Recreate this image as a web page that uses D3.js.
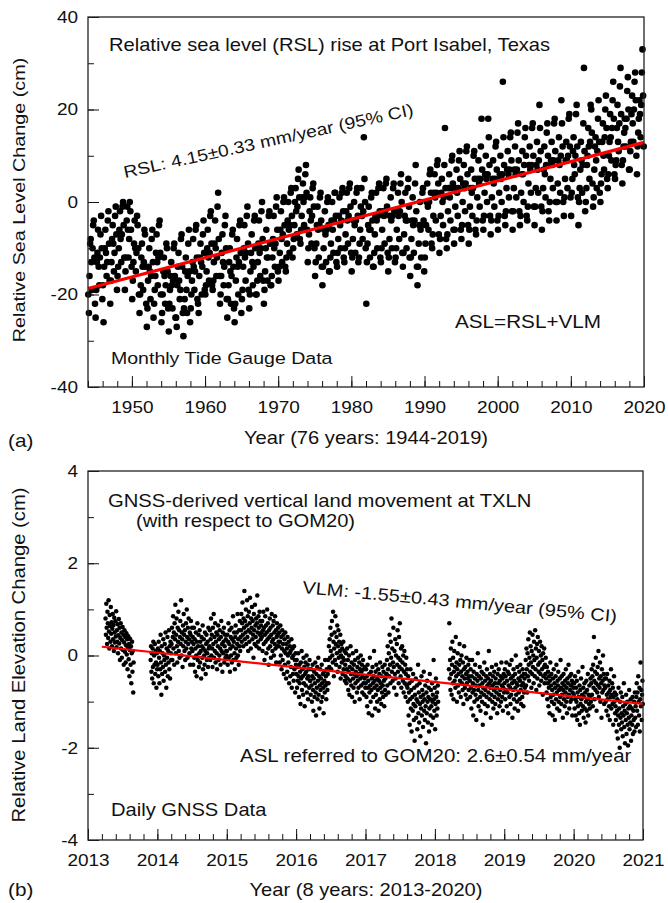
<!DOCTYPE html>
<html><head><meta charset="utf-8">
<script src="https://cdn.jsdelivr.net/npm/d3@7"></script>
<style>body{margin:0;background:#fff}svg{display:block}text{font-family:"Liberation Sans",Arial,Helvetica,sans-serif;fill:#111}</style>
</head><body><svg id="c" width="668" height="903"></svg>
<script>
// ---------- Panel (a): monthly relative sea level (cm), Jan..Dec per year ----------
const rsl1940s = [ // 1944-1949
-20,-24,-16,-9,-8,-13,-19,-10,-5,-4,-12,-22,
-25,-19,-13,-11,-6,-14,-18,-12,-7,-3,-10,-21,
-18,-26,-14,-10,-6,-11,-16,-13,-4,-2,-9,-17,
-22,-17,-13,-8,-5,-9,-15,-11,-3,-1,-7,-19,
-16,-14,-10,-6,-2,-8,-13,-7,-1,0,-5,-12,
-19,-15,-12,-4,-1,-6,-12,-8,0,-2,-6,-14];
const rsl1950s = [
-21,-17,-13,-9,-4,-10,-15,-11,-3,-5,-10,-20,
-24,-20,-18,-12,-9,-14,-19,-13,-6,-7,-14,-22,
-27,-23,-17,-14,-10,-15,-21,-16,-8,-6,-13,-25,
-22,-19,-16,-11,-7,-13,-18,-12,-5,-4,-11,-20,
-26,-24,-20,-15,-12,-16,-22,-18,-9,-10,-15,-23,
-28,-22,-19,-16,-13,-18,-23,-17,-10,-9,-16,-25,
-25,-27,-18,-14,-11,-17,-21,-19,-8,-7,-14,-24,
-29,-23,-21,-15,-12,-19,-24,-16,-9,-6,-15,-26,
-23,-20,-17,-13,-8,-14,-19,-15,-6,-5,-12,-21,
-22,-24,-16,-12,-9,-13,-20,-14,-7,-4,-11,-19];
const rsl1960s = [
-20,-18,-15,-10,-6,-12,-17,-11,-3,-2,-9,-18,
-19,-17,-13,-9,-4,-10,-16,-12,-1,2,-8,-16,
-22,-20,-16,-11,-7,-13,-18,-14,-5,-3,-10,-21,
-25,-21,-18,-13,-10,-15,-22,-16,-7,-6,-14,-23,
-26,-22,-17,-12,-8,-14,-20,-13,-5,-4,-11,-24,
-21,-19,-14,-10,-5,-12,-17,-11,-3,-1,-9,-19,
-23,-20,-15,-11,-7,-13,-18,-14,-4,-3,-10,-20,
-20,-17,-13,-9,-4,-11,-16,-10,-2,0,-8,-17,
-22,-19,-15,-10,-6,-12,-17,-12,-3,-2,-9,-18,
-18,-16,-12,-8,-3,-10,-14,-9,-1,1,-6,-15];
const rsl1970s = [
-17,-14,-11,-6,-2,-8,-13,-7,0,1,-5,-14,
-15,-12,-9,-4,0,-6,-11,-5,2,3,-3,-12,
-10,-8,-5,0,3,-2,-7,-1,5,7,1,-8,
-9,-6,-3,1,4,0,-5,1,6,8,2,-6,
-13,-10,-7,-2,1,-4,-9,-3,3,4,-1,-10,
-16,-13,-9,-5,-1,-6,-12,-5,1,2,-4,-14,
-18,-14,-10,-6,-2,-7,-13,-6,0,1,-5,-15,
-15,-12,-9,-4,0,-6,-11,-4,2,2,-3,-13,
-14,-11,-8,-3,1,-5,-10,-4,2,3,-2,-12,
-13,-10,-7,-2,2,-4,-9,-3,3,4,-1,-11];
const rsl1980s = [
-15,-12,-8,-4,0,-5,-11,-4,2,3,-3,-13,
-12,-9,-6,-1,3,-3,-8,-2,14,5,0,-10,
-22,-13,-9,-5,-1,-6,-12,-6,1,2,-4,-14,
-14,-11,-7,-3,2,-4,-10,-3,3,4,-2,-12,
-13,-10,-6,-2,3,-3,-9,-2,4,5,-1,-11,
-15,-12,-8,-3,1,-4,-10,-3,3,4,-2,-13,
-12,-10,-6,-2,2,-3,-8,-2,4,6,0,-11,
-14,-11,-7,-3,2,-4,-10,-4,3,5,-1,-12,
-16,-12,-8,-4,1,-5,-11,-4,4,8,-2,-14,
-18,-14,-9,-5,0,-6,-12,-5,2,3,-4,-15];
const rsl1990s = [
-12,-9,-5,0,4,-1,-6,0,6,7,2,-9,
-10,-7,-3,2,6,1,-4,2,8,9,4,-7,
-11,-8,-3,2,5,0,-5,1,8,16,3,-8,
-10,-7,-2,3,6,1,-4,3,9,10,4,-6,
-9,-6,-1,3,7,2,-3,3,9,11,5,-6,
-8,-5,0,4,8,3,-2,4,11,12,6,-5,
-9,-6,-1,3,7,2,-3,3,10,11,5,-6,
-7,-4,1,5,9,4,-1,5,12,18,7,-4,
-6,-3,2,6,10,5,0,6,18,14,8,-3,
-7,-4,1,5,9,4,-1,5,12,13,7,-4];
const rsl2000s = [
-6,-3,2,6,10,5,0,6,26,14,8,-3,
-5,-2,3,7,11,6,1,7,14,15,9,-2,
-6,-2,3,7,12,6,1,7,15,17,9,-2,
-5,-3,2,6,11,6,0,8,14,16,10,-3,
-4,-1,4,8,12,7,2,8,16,17,10,-1,
-5,-1,3,8,13,7,2,9,21,16,11,-1,
-6,-2,3,7,12,6,1,8,15,17,10,-2,
-4,0,5,9,13,8,3,9,17,18,11,0,
-4,0,4,9,14,8,2,10,22,17,12,0,
-3,1,5,9,13,9,3,10,18,19,12,1];
const rsl2010s = [
-3,2,5,11,14,8,6,10,19,21,12,1,
-5,0,3,7,13,9,2,8,17,29,11,-2,
0,3,8,10,16,12,5,13,21,20,15,4,
-1,1,7,12,14,9,3,11,18,22,13,2,
0,4,6,13,17,10,7,14,20,23,16,5,
3,6,10,13,19,14,9,16,22,26,18,6,
5,8,9,16,21,13,11,17,25,29,19,8,
4,9,12,15,18,16,12,18,24,27,20,7,
7,11,13,19,23,17,13,20,26,28,22,10,
6,12,15,18,22,19,14,21,28,33,23,12];
const rslDecadeStart = [1944,1950,1960,1970,1980,1990,2000,2010];
const rslTrendYears = [1944, 2020];
const rslTrendValues = [-18.7, 12.9];

// ---------- Panel (b): GNSS daily vertical land movement (hundredths of cm), 2-day sampling ----------
const gnss2013a = [80,45,112,60,25,95,70,38,120,52,15,88,64,30,105,47,72,20,58,90,35,66,10,82,50,28,74,41,96,18,55,30,68,5,44,79,26,60,-10,38,70,15,50,-5,33,62,12,45,-20,28,55,8,40,-15,22,48,2,35,-30,18,42,-8,25,-45,12,36,-20,20,-60,5,30,-35,10,-80,-15];
const gnss2013b = [-10,20,-35,5,-50,15,-25,30,-60,0,-20,25,-40,10,-15,-70,5,-30];
const gnss2014 = [-20,15,-45,30,-5,-60,10,-30,45,-15,-85,20,-40,5,-25,35,-55,0,-10,25,-35,50,-20,-70,15,-5,40,-45,10,-15,55,-30,20,-50,30,5,-10,
25,60,-10,40,85,15,50,-20,70,35,110,5,45,80,20,-15,60,30,95,10,55,-5,40,75,25,120,0,50,35,-25,65,20,90,45,10,55,-10,30,70,15,100,40,-5,60,25,80,35,5,50,-20,45,75,15,30,60,
10,40,-20,25,60,-5,35,-35,15,50,0,-45,30,70,-10,20,45,-25,5,55,-15,30,10,-50,40,20,-5,65,-30,15,35,0,-20,50,10,-40,25,45,-10,5,30,-25,60,15,-5,
20,55,-10,35,80,0,45,15,-25,60,25,90,-5,40,10,70,-15,30,50,5,-30,45,20,65,-10,35,0,55,15,-20,40,75,10,25,-35,50,5,30,60,-15,20,45,-5,35,10,0];
const gnss2015 = [10,45,-20,30,70,-5,25,55,-35,15,40,0,60,-15,35,20,85,-10,30,50,5,-30,40,65,15,-5,50,25,90,0,35,-20,55,20,75,10,40,
55,90,30,70,115,45,20,80,60,140,35,75,50,100,25,65,120,40,85,10,55,95,30,70,125,50,15,80,60,105,35,75,45,-5,90,55,25,110,65,40,80,20,70,130,50,30,85,60,15,95,45,75,35,65,50,
40,75,10,55,95,25,60,-10,45,85,30,65,5,50,100,35,70,15,-20,55,40,80,20,60,-5,45,90,30,10,65,35,75,0,50,25,85,15,55,-15,40,70,20,45,60,30,
20,50,-15,30,65,0,40,-30,15,55,-10,25,45,-40,10,35,-20,50,5,-50,25,15,-35,40,0,-15,30,-60,5,20,-45,10,-25,35,-70,-5,15,-40,0,-55,20,-30,-10,-80,5,-20];
const gnss2016 = [-40,-10,-70,-25,-55,5,-45,-90,-20,-60,-35,-105,-15,-50,10,-75,-30,-45,-85,-5,-60,-25,-110,-40,-15,-65,-35,0,-80,-50,-20,-95,-45,-30,-70,-10,-55,
-55,-85,-30,-65,-100,-45,-20,-75,-120,-50,-35,-90,-60,-15,-80,-130,-40,-70,-25,-95,-55,-5,-85,-45,-115,-65,-30,-75,-50,-100,-20,-60,-90,-40,-70,-125,-35,-55,-80,-10,-65,-45,-95,-30,-60,-75,
-40,-10,-60,20,-25,35,-5,60,10,-30,45,75,0,-15,95,30,-45,15,50,-10,85,25,-20,40,5,65,-35,20,55,-5,30,-25,10,45,-50,0,25,-15,15,-40,-5,30,-30,-10,10,-55,
-20,-45,5,-60,-30,15,-50,-10,-75,-35,0,-85,-25,-55,20,-40,-65,-15,-90,-30,5,-50,-70,-20,-40,-100,-10,-60,-35,10,-45,-80,-25,-55,-5,-70,-40,-15,-95,-30,-50,0,-65,-35,-20,-80,-45,-10,-60,-30,-85,-50,-25,-70];
const gnss2017 = [-60,-30,-90,-45,-110,-20,-70,-55,-125,-40,-80,-5,-65,-100,-35,-75,-50,-130,-25,-60,-90,-45,10,-70,-55,-115,-35,-85,-20,-65,-100,-50,-75,-30,-120,-55,-40,-95,-15,-70,-60,-105,-45,-80,-25,-65,-90,-35,-55,-110,-20,-75,-50,-85,-40,
-40,-10,-65,20,-30,-80,5,-45,45,-20,-60,30,-5,80,-35,15,-55,-15,60,-25,-70,10,-40,35,-50,0,-85,25,-20,55,-35,-5,-60,40,-25,70,-10,-45,15,-70,-30,20,-15,-55,0,-80,-35,10,-60,-20,-90,-40,-5,-65,-30,
-70,-100,-45,-130,-80,-60,-150,-95,-30,-115,-75,-165,-55,-90,-120,-40,-105,-140,-70,-185,-85,-110,-50,-135,-95,-65,-160,-100,-20,-125,-80,-145,-60,-105,-175,-90,-115,-45,-130,-75,-100,-155,-85,-35,-120,-95,-140,-65,-110,-190,-80,-125,-55,-100,-145,-90,-70,-165,-115,-40,-95,-130,-75,-110,-150,-60,-100,-85,-135,-10,-95,-120,-70,-160,-105,-50,-90,-130,-80,-115,-65,-100];
const gnss2018 = [-30,70,-50,-10,-75,15,-40,-85,-20,30,-60,-5,-95,-35,10,-55,-25,-70,40,-45,-15,-100,-30,5,-65,-40,-80,-20,25,-55,-10,-90,-35,0,-60,-45,-75,-15,-105,-30,20,-50,-70,-25,-85,-40,-5,-60,-95,-35,-50,-20,-75,-45,-10,
-55,-90,-30,-70,-115,-45,-10,-80,-60,-130,-35,-75,-100,-50,-20,-85,-65,-140,-40,-95,-55,5,-75,-110,-45,-65,-25,-90,-120,-50,-80,-35,-100,-60,-150,-70,-40,-85,-15,-105,-55,-75,-125,-45,-90,-30,-65,-110,-50,-80,10,-60,-95,-40,-70,-135,-55,-85,-25,-100,-65,-45,-115,-75,-35,-90,-60,-105,-50,-20,-80,-70,-125,-40,-95,-60,-30,-85,-110,-55,-75,-45,-100,-15,-65,-90,-50,-120,-70,-40,-80];
const gnss2019 = [-60,-30,-95,-45,-75,-15,-110,-55,-80,-35,-125,-65,-40,-90,-20,-70,-105,-50,-85,-10,-60,-135,-45,-75,-30,-95,-55,-115,-40,-70,0,-85,-60,-100,-25,-65,-120,-50,-80,-35,-95,-55,-20,-75,-105,-45,-65,-90,-30,-60,-110,-40,-80,-50,-70,
-40,-10,-65,15,-30,-80,5,-45,35,-20,-55,-5,50,-35,20,-15,-70,10,-40,45,-25,0,-60,30,-10,-45,55,-30,15,-75,-5,25,-50,40,-20,-35,10,-65,-15,30,-40,0,-55,20,-30,-10,-85,5,-45,-25,15,-60,-20,-40,-5,
-50,-80,-25,-95,-60,-35,-110,-70,-45,-125,-55,-15,-90,-65,-40,-100,-75,-130,-50,-85,-30,-105,-60,-140,-70,-45,-95,-20,-80,-115,-55,-65,-35,-100,-75,-120,-50,-90,-10,-70,-105,-45,-85,-60,-135,-75,-40,-95,-65,-110,-55,-80,-30,-100,-70,-125,-50,-90,-60,-20,-85,-115,-45,-75,-100,-65,-40,-95,-55,-130,-80,-60,-70];
const gnss2020 = [-85,-60,-115,-45,-95,-130,-70,-100,-55,-140,-80,-110,-35,-90,-125,-65,-150,-75,-105,-50,-95,-120,-85,-25,-110,-70,-135,-90,-60,-115,-80,-145,-100,-55,-120,-75,-95,-40,-130,-85,-105,-65,-115,-90,-50,-100,
-60,-30,-85,-45,-110,-20,-70,40,-55,-95,-35,-75,-5,-60,-120,-40,-80,-25,-65,10,-90,-50,-70,-15,-100,-45,-60,-135,-30,-80,-55,0,-75,-40,-105,-65,-50,
-70,-100,-50,-120,-85,-40,-95,-130,-65,-80,-110,-55,-140,-75,-90,-30,-115,-85,-60,-105,-70,-150,-90,-45,-100,-80,-125,
-110,-140,-85,-165,-120,-95,-180,-130,-70,-150,-115,-200,-100,-135,-80,-160,-125,-145,-90,-175,-110,-130,-60,-155,-120,-190,-105,-140,-85,-170,-125,-100,-150,-195,-115,-135,-75,-160,-110,-145,-95,-185,-130,-115,-150,-90,-170,-120,-140,-100,-165,-80,-135,-110,-155,
-90,-60,-120,-80,-150,-45,-100,-130,-70,-165,-95,-15,-110,-75,-140,-85,-55,-105];
const gnssSegFrom = [2013.25, 2013.90, 2014.0, 2015.0, 2016.0, 2017.0, 2018.2, 2019.0, 2020.0];
const gnssSegTo   = [2013.66, 2014.0, 2015.0, 2016.0, 2017.0, 2018.05, 2019.0, 2020.0, 2021.0];
const vlmTrendYears = [2013.2, 2021];
const vlmTrendValues = [0.19, -1.05];

// ---------- tick settings ----------
const aMajorX = [1950,1960,1970,1980,1990,2000,2010,2020];
const aMajorY = [-40,-20,0,20,40];
const bMajorX = [2013,2014,2015,2016,2017,2018,2019,2020,2021];
const bMajorY = [-4,-2,0,2,4];

const SX = 1.15;
const svg = d3.select('#c');
function label(str, x, y, size, anchor, rot){
  svg.append('text').attr('transform',`translate(${x},${y}) rotate(${rot||0}) scale(${SX},1)`)
    .attr('font-size',size).attr('text-anchor',anchor||'start').text(str);
}
function rng(a,b,s){const r=[];for(let v=a;v<=b+1e-9;v+=s)r.push(+v.toFixed(4));return r;}
const fmt = d => String(d);

function frame(x,y,majX,minX,majY,minY,ml,mi){
  const g = svg.append('g');
  const [x0,x1]=x.range(), [y1,y0]=y.range();
  g.append('g').attr('transform',`translate(0,${y1})`)
    .call(d3.axisBottom(x).tickValues(minX).tickSize(-mi).tickFormat(''));
  const ax2 = g.append('g').attr('transform',`translate(0,${y1})`)
    .call(d3.axisBottom(x).tickValues(majX).tickSize(-ml).tickPadding(14).tickFormat(fmt));
  g.append('g').attr('transform',`translate(${x0},0)`)
    .call(d3.axisLeft(y).tickValues(minY).tickSize(-mi).tickFormat(''));
  const ay2 = g.append('g').attr('transform',`translate(${x0},0)`)
    .call(d3.axisLeft(y).tickValues(majY).tickSize(-ml).tickPadding(10).tickFormat(fmt));
  g.selectAll('.domain').remove();
  g.selectAll('line').attr('stroke','#111').attr('stroke-width',1);
  ax2.selectAll('text').attr('font-size',16.5).attr('font-family','Liberation Sans, Arial').attr('fill','#111')
    .attr('transform',`scale(${SX},1)`);
  ay2.selectAll('text').attr('font-size',16.5).attr('font-family','Liberation Sans, Arial').attr('fill','#111')
    .attr('x',-10/SX).attr('transform',`scale(${SX},1)`);
  g.append('rect').attr('x',x0).attr('y',y0).attr('width',x1-x0).attr('height',y1-y0)
    .attr('fill','none').attr('stroke','#222').attr('stroke-width',1.3);
}

// ---------- Panel (a) ----------
const xa = d3.scaleLinear().domain([1944,2020]).range([88,644]);
const ya = d3.scaleLinear().domain([-40,40]).range([387,17]);
const rslDecades = [rsl1940s,rsl1950s,rsl1960s,rsl1970s,rsl1980s,rsl1990s,rsl2000s,rsl2010s];
const rslPts = [];
rslDecades.forEach((arr,k)=>arr.forEach((v,i)=>rslPts.push([rslDecadeStart[k]+(i+0.5)/12, v])));
svg.append('g').selectAll('circle').data(rslPts).join('circle')
  .attr('cx',d=>xa(d[0])).attr('cy',d=>ya(d[1])).attr('r',3.3).attr('fill','#000');
svg.append('line').attr('x1',xa(rslTrendYears[0])).attr('y1',ya(rslTrendValues[0]))
  .attr('x2',xa(rslTrendYears[1])).attr('y2',ya(rslTrendValues[1]))
  .attr('stroke','#ff0000').attr('stroke-width',3.2);
frame(xa,ya,aMajorX,rng(1944,2020,2),aMajorY,rng(-40,40,10),11,6);

label('Relative sea level (RSL) rise at Port Isabel, Texas',109,51,17.5);
label('RSL: 4.15\u00b10.33 mm/year (95% CI)',125,178,16.8,'start',-12.3);
label('ASL=RSL+VLM',455,328,18);
label('Monthly Tide Gauge Data',111,364,17);
label('Relative Sea Level Change (cm)',25,200,17.2,'middle',-90);
label('Year (76 years: 1944-2019)',366,444,17.5,'middle');
label('(a)',8,447,18);

// ---------- Panel (b) ----------
const xb = d3.scaleLinear().domain([2013,2021]).range([88,643]);
const yb = d3.scaleLinear().domain([-4,4]).range([840,471]);
const gnssSegs = [gnss2013a,gnss2013b,gnss2014,gnss2015,gnss2016,gnss2017,gnss2018,gnss2019,gnss2020];
const gnssPts = [];
gnssSegs.forEach((arr,k)=>{const a=gnssSegFrom[k], b=gnssSegTo[k];
  arr.forEach((v,i)=>gnssPts.push([a+(b-a)*(i+0.5)/arr.length, v/100]));});
svg.append('g').selectAll('circle').data(gnssPts).join('circle')
  .attr('cx',d=>xb(d[0])).attr('cy',d=>yb(d[1])).attr('r',2.25).attr('fill','#000');
svg.append('line').attr('x1',xb(vlmTrendYears[0])).attr('y1',yb(vlmTrendValues[0]))
  .attr('x2',xb(vlmTrendYears[1])).attr('y2',yb(vlmTrendValues[1]))
  .attr('stroke','#ff0000').attr('stroke-width',2.2);
frame(xb,yb,bMajorX,rng(2013,2021,0.2),bMajorY,rng(-4,4,1),11,6);

label('GNSS-derived vertical land movement at TXLN',108,507,17.6);
label('(with respect to GOM20)',136,527,17.5);
label('VLM: -1.55\u00b10.43 mm/year (95% CI)',302,593,17.4,'start',5.3);
label('ASL referred to GOM20: 2.6\u00b10.54 mm/year',240,762,17.8);
label('Daily GNSS Data',111,816,17.5);
label('Relative Land Elevation Change (cm)',25,655,17.6,'middle',-90);
label('Year (8 years: 2013-2020)',366,896,17.5,'middle');
label('(b)',8,896,18);
</script></body></html>
